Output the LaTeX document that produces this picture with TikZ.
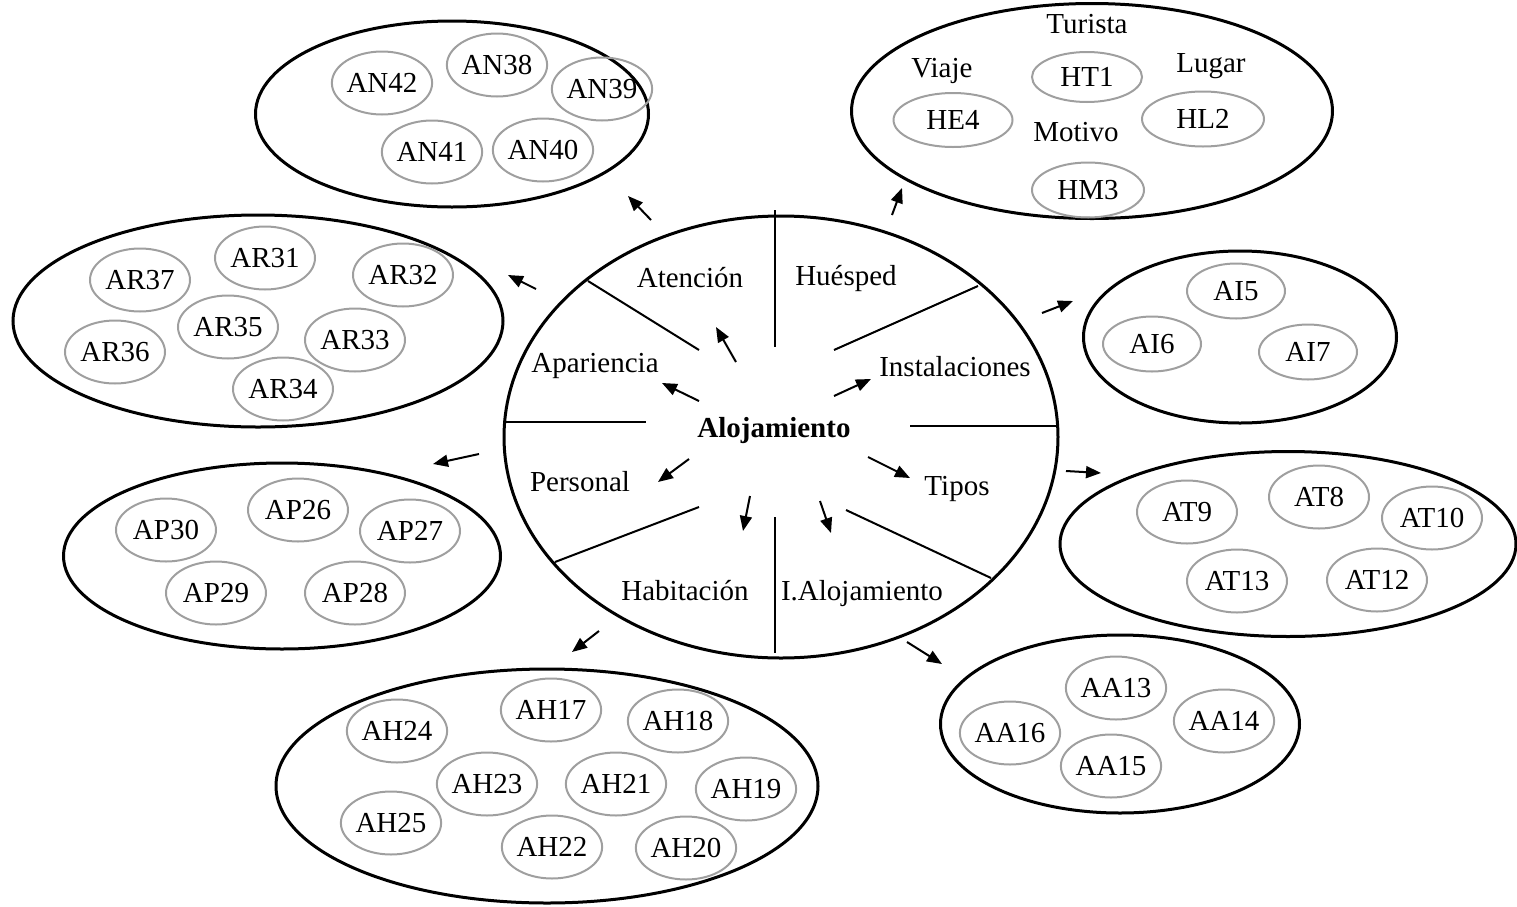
\documentclass[tikz,border=0pt]{standalone}
\usepackage{fontspec}
\setmainfont{Liberation Serif}
\usetikzlibrary{shapes.geometric,arrows.meta}
\begin{document}
\begin{tikzpicture}[x=0.5pt,y=-0.5pt,
  font=\fontsize{14.5}{17}\selectfont,
  group/.style={draw,ellipse,line width=1.5pt,inner sep=0pt},
  item/.style={draw=gray!75,ellipse,line width=1pt,inner sep=0pt,
               minimum width=50pt,minimum height=31.5pt},
  tag/.style={inner sep=0pt},
  divider/.style={line width=1pt},
  pointer/.style={line width=1pt,-{Triangle[length=7.5pt,width=6pt]}}]
\useasboundingbox (0,0) rectangle (1517,906);

% ---- central concept ----
\node[group,minimum width=277pt,minimum height=221pt] (hub) at (781,437) {};
\node[tag,font=\fontsize{14.5}{17}\selectfont\bfseries] (aloj) at (774,431) {Alojamiento};

% sector dividers
\draw[divider] (775,210) -- (775,347);
\draw[divider] (588,281) -- (699,350);
\draw[divider] (978,286) -- (834,350);
\draw[divider] (504,422) -- (646,422);
\draw[divider] (910,426) -- (1058,426);
\draw[divider] (555,562) -- (699,507);
\draw[divider] (991,578) -- (846,510);
\draw[divider] (775,517) -- (775,653);

% sector labels
\node[tag] (lAten) at (690,278) {Atención};
\node[tag] (lHues) at (846,278) {Huésped};
\node[tag] (lApar) at (595,366) {Apariencia};
\node[tag] (lInst) at (955,367) {Instalaciones};
\node[tag] (lPers) at (580,482) {Personal};
\node[tag] (lTipo) at (957,489) {Tipos};
\node[tag] (lHabi) at (685,591) {Habitación};
\node[tag] (lIAlo) at (862,594) {I.Alojamiento};

% inner pointers
\coordinate (iAtenS) at (736,362); \coordinate (iAtenE) at (716,327);
\coordinate (iAparS) at (699,401); \coordinate (iAparE) at (662,383);
\coordinate (iInstS) at (834,396); \coordinate (iInstE) at (871,379);
\coordinate (iPersS) at (689,459); \coordinate (iPersE) at (658,482);
\coordinate (iTipoS) at (868,457); \coordinate (iTipoE) at (910,478);
\coordinate (iHabiS) at (750,496); \coordinate (iHabiE) at (743,531);
\coordinate (iIAloS) at (820,501); \coordinate (iIAloE) at (831,533);
\draw[pointer] (iAtenS) -- (iAtenE);
\draw[pointer] (iAparS) -- (iAparE);
\draw[pointer] (iInstS) -- (iInstE);
\draw[pointer] (iPersS) -- (iPersE);
\draw[pointer] (iTipoS) -- (iTipoE);
\draw[pointer] (iHabiS) -- (iHabiE);
\draw[pointer] (iIAloS) -- (iIAloE);

% outer pointers
\coordinate (oANs) at (651,220); \coordinate (oANe) at (628,196);
\coordinate (oHUs) at (892,215); \coordinate (oHUe) at (902,188);
\coordinate (oARs) at (536,289); \coordinate (oARe) at (508,275);
\coordinate (oAIs) at (1042,313); \coordinate (oAIe) at (1073,301);
\coordinate (oAPs) at (479,454); \coordinate (oAPe) at (433,464);
\coordinate (oATs) at (1066,471); \coordinate (oATe) at (1101,473);
\coordinate (oAHs) at (599,631); \coordinate (oAHe) at (572,652);
\coordinate (oAAs) at (907,642); \coordinate (oAAe) at (942,664);
\draw[pointer] (oANs) -- (oANe);
\draw[pointer] (oHUs) -- (oHUe);
\draw[pointer] (oARs) -- (oARe);
\draw[pointer] (oAIs) -- (oAIe);
\draw[pointer] (oAPs) -- (oAPe);
\draw[pointer] (oATs) -- (oATe);
\draw[pointer] (oAHs) -- (oAHe);
\draw[pointer] (oAAs) -- (oAAe);

% ---- Atención group ----
\node[group,minimum width=196.5pt,minimum height=93pt] (gAN) at (452,114) {};
\node[item] (AN42) at (382,83) {AN42};
\node[item] (AN38) at (497,65) {AN38};
\node[item] (AN39) at (602,89) {AN39};
\node[item] (AN41) at (432,152) {AN41};
\node[item] (AN40) at (543,150) {AN40};

% ---- Huésped group ----
\node[group,minimum width=240.5pt,minimum height=107.5pt] (gHU) at (1092,111) {};
\node[item,minimum width=55pt,minimum height=25pt] (HT1) at (1087,77) {HT1};
\node[item,minimum width=59.5pt,minimum height=27pt] (HE4) at (953,120) {HE4};
\node[item,minimum width=61pt,minimum height=27.5pt] (HL2) at (1203,119) {HL2};
\node[item,minimum width=56pt,minimum height=27.5pt] (HM3) at (1088,190) {HM3};
\node[tag] (tTur) at (1087,24) {Turista};
\node[tag] (tVia) at (942,71) {Viaje};
\node[tag] (tLug) at (1211,66) {Lugar};
\node[tag] (tMot) at (1076,132) {Motivo};

% ---- Apariencia group ----
\node[group,minimum width=245pt,minimum height=106pt] (gAR) at (258,321) {};
\node[item] (AR37) at (140,280) {AR37};
\node[item] (AR31) at (265,258) {AR31};
\node[item] (AR32) at (403,275) {AR32};
\node[item] (AR35) at (228,327) {AR35};
\node[item] (AR33) at (355,340) {AR33};
\node[item] (AR36) at (115,352) {AR36};
\node[item] (AR34) at (283,389) {AR34};

% ---- Instalaciones group ----
\node[group,minimum width=156.5pt,minimum height=86pt] (gAI) at (1240,337) {};
\node[item,minimum width=49pt,minimum height=27.5pt] (AI5) at (1236,291) {AI5};
\node[item,minimum width=49pt,minimum height=27.5pt] (AI6) at (1152,344) {AI6};
\node[item,minimum width=49pt,minimum height=27.5pt] (AI7) at (1308,352) {AI7};

% ---- Tipos group ----
\node[group,minimum width=228pt,minimum height=92.5pt] (gAT) at (1288,544) {};
\node[item] (AT9) at (1187,512) {AT9};
\node[item] (AT8) at (1319,497) {AT8};
\node[item] (AT10) at (1432,518) {AT10};
\node[item] (AT13) at (1237,581) {AT13};
\node[item] (AT12) at (1377,580) {AT12};

% ---- Personal group ----
\node[group,minimum width=218.5pt,minimum height=93pt] (gAP) at (282,556) {};
\node[item] (AP30) at (166,530) {AP30};
\node[item] (AP26) at (298,510) {AP26};
\node[item] (AP27) at (410,531) {AP27};
\node[item] (AP29) at (216,593) {AP29};
\node[item] (AP28) at (355,593) {AP28};

% ---- Habitación group ----
\node[group,minimum width=271pt,minimum height=117pt] (gAH) at (547,786) {};
\node[item] (AH24) at (397,731) {AH24};
\node[item] (AH17) at (551,710) {AH17};
\node[item] (AH18) at (678,721) {AH18};
\node[item] (AH23) at (487,784) {AH23};
\node[item] (AH21) at (616,784) {AH21};
\node[item] (AH19) at (746,789) {AH19};
\node[item] (AH25) at (391,823) {AH25};
\node[item] (AH22) at (552,847) {AH22};
\node[item] (AH20) at (686,848) {AH20};

% ---- I.Alojamiento group ----
\node[group,minimum width=179.5pt,minimum height=89pt] (gAA) at (1120,724) {};
\node[item] (AA13) at (1116,688) {AA13};
\node[item] (AA16) at (1010,733) {AA16};
\node[item] (AA14) at (1224,721) {AA14};
\node[item] (AA15) at (1111,766) {AA15};

\end{tikzpicture}
\end{document}
